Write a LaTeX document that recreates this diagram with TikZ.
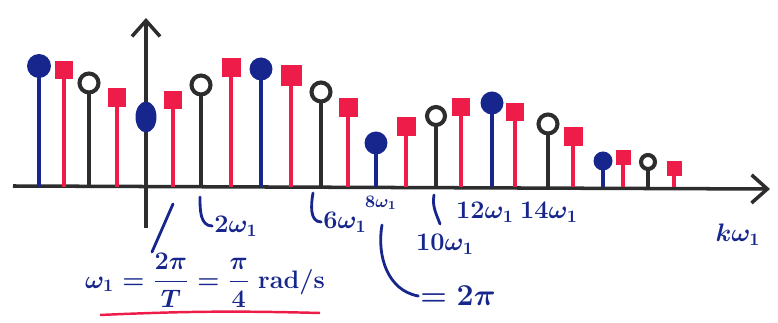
\documentclass[tikz,border=0pt]{standalone}
\usepackage{tikz}
\usetikzlibrary{positioning,arrows.meta,shapes.geometric}
\definecolor{penblue}{RGB}{22,38,140}
\definecolor{penred}{RGB}{238,28,72}
\definecolor{penblack}{RGB}{45,45,45}
\tikzset{
  bdot/.style={circle, fill=penblue, inner sep=0pt},
  rsq/.style={rectangle, fill=penred, inner sep=0pt},
  ocirc/.style={circle, draw=penblack, line width=2.3pt, fill=white, inner sep=0pt},
  stem/.style={line width=2pt},
  axisline/.style={penblack, line width=2pt},
  lbl/.style={text=penblue, font=\Large\boldmath, inner sep=1pt},
  hookline/.style={penblue, line width=1.6pt, line cap=round},
}
\begin{document}
\begin{tikzpicture}[x=0.02cm, y=-0.02cm]
  \useasboundingbox (0,0) rectangle (778,323);
  % axes
  \coordinate (xl) at (13,186);
  \coordinate (xr) at (770,189);
  \coordinate (yb) at (146,228);
  \coordinate (yt) at (146,18);
  \draw[axisline, -{Straight Barb[length=9pt, width=16pt]}] (xl) -- (xr);
  \draw[axisline, -{Straight Barb[length=9pt, width=16pt]}] (yb) -- (yt);
  % spectral lines
  \foreach \k/\x/\y/\t/\c/\s in {
      -4/39/66/bdot/penblue/24, -3/64/70/rsq/penred/18,
      -2/89/83/ocirc/penblack/19, -1/117/98/rsq/penred/19,
      1/173/100/rsq/penred/18, 2/201/85/ocirc/penblack/19,
      3/231/68/rsq/penred/19, 4/261/69/bdot/penblue/23,
      5/291/76/rsq/penred/21, 6/321/92/ocirc/penblack/19,
      7/348/108/rsq/penred/19, 8/376/143/bdot/penblue/23,
      9/406/127/rsq/penred/19, 10/436/116/ocirc/penblack/18,
      11/461/107/rsq/penred/18, 12/492/103/bdot/penblue/23,
      13/515/112/rsq/penred/18, 14/548/124/ocirc/penblack/19,
      15/573/137/rsq/penred/19, 16/603/161/bdot/penblue/19,
      17/623/158/rsq/penred/15, 18/648/162/ocirc/penblack/14,
      19/674/169/rsq/penred/15}
  {
    \coordinate (b\k) at (\x,187);
    \draw[stem, \c] (\x,\y) -- (b\k);
    \node[\t, minimum size=\s*0.2mm] (h\k) at (\x,\y) {};
  }
  \node[ellipse, fill=penblue, inner sep=0pt, minimum width=21*0.2mm,
        minimum height=31*0.2mm] (h0) at (146,117) {};
  % labels
  \node[lbl] (l2) at (236,226) {$2\omega_1$};
  \node[lbl] (l6) at (345,222) {$6\omega_1$};
  \node[lbl, font=\normalsize\boldmath] (l8) at (381,203) {$8\omega_1$};
  \node[lbl] (l10) at (445,244) {$10\omega_1$};
  \node[lbl] (l12) at (485,212) {$12\omega_1$};
  \node[lbl] (l14) at (549,212) {$14\omega_1$};
  \node[lbl] (lk) at (738,235) {$k\omega_1$};
  \node[lbl] (w1) at (205,280) {$\displaystyle\omega_1=\frac{2\pi}{T}=\frac{\pi}{4}$ \textbf{rad/s}};
  \node[lbl, font=\LARGE\boldmath] (tp) at (458,296) {$=2\pi$};
  % pointers
  \coordinate (p1a) at (173,204);
  \coordinate (p1b) at (152,252);
  \draw[hookline] (p1a) -- (p1b);
  \coordinate (p2) at (200,197);
  \draw[hookline] (p2) to[out=-90, in=180] (l2.west);
  \coordinate (p6) at (313,193);
  \draw[hookline] (p6) to[out=-100, in=180] (l6.west);
  \coordinate (p10a) at (434,195);
  \coordinate (p10b) at (440,224);
  \draw[hookline] (p10a) to[out=-100, in=110] (p10b);
  \coordinate (p8) at (382,225);
  \draw[hookline] (p8) to[out=-100, in=170] (tp.west);
  % underline
  \coordinate (ul) at (100,315);
  \coordinate (ur) at (320,313);
  \draw[penred, line width=1.4pt] (ul) to[bend left=2] (ur);
\end{tikzpicture}
\end{document}
